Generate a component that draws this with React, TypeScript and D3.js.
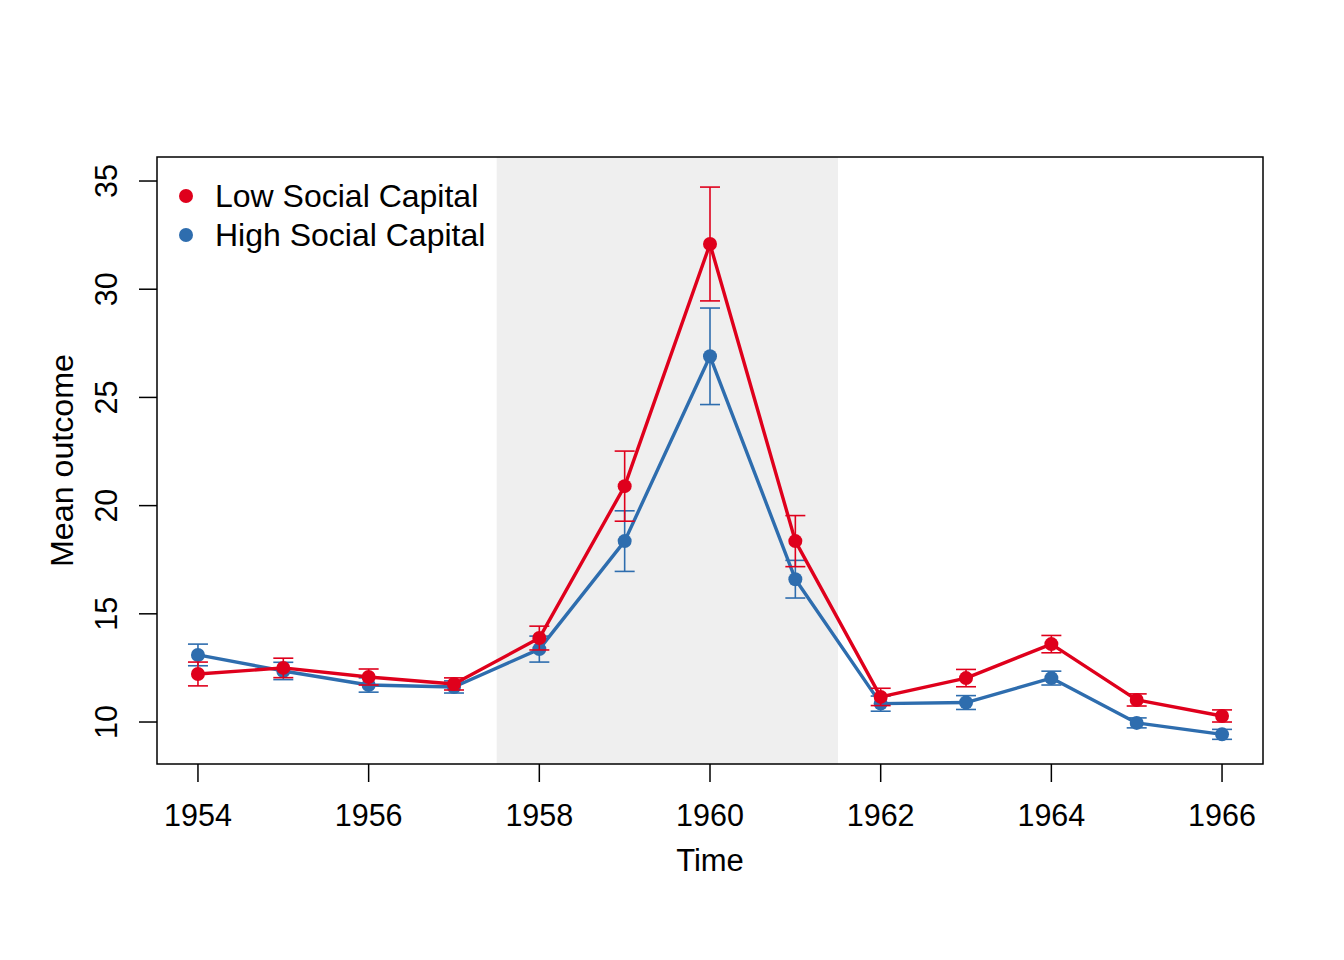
import React from "react";
import * as d3 from "d3";

const years = [1954, 1955, 1956, 1957, 1958, 1959, 1960, 1961, 1962, 1963, 1964, 1965, 1966];
const lowMean = [12.22, 12.5, 12.08, 11.76, 13.88, 20.9, 32.09, 18.36, 11.16, 12.03, 13.6, 11.02, 10.28];
const lowErr = [0.55, 0.45, 0.37, 0.28, 0.55, 1.62, 2.63, 1.18, 0.4, 0.4, 0.4, 0.28, 0.28];
const highMean = [13.1, 12.36, 11.71, 11.62, 13.37, 18.36, 26.9, 16.6, 10.85, 10.9, 12.03, 9.96, 9.43];
const highErr = [0.5, 0.4, 0.33, 0.28, 0.6, 1.4, 2.23, 0.87, 0.35, 0.32, 0.32, 0.23, 0.23];
const xTicks = [1954, 1956, 1958, 1960, 1962, 1964, 1966];
const yTicks = [10, 15, 20, 25, 30, 35];
const shade = [1957.5, 1961.5];
const seriesNames = ["Low Social Capital", "High Social Capital"];
const colors = ["#DF001C", "#2E6DAE"];

export default function App() {
  const W = 1344, H = 960;
  const L = 157, R = 1263, T = 157, B = 764;
  const x = d3.scaleLinear().domain([1953.52, 1966.48]).range([L, R]);
  const y = d3.scaleLinear().domain([8.06, 36.11]).range([B, T]);
  const font = "Liberation Sans, Arial, Helvetica, sans-serif";
  const series = [
    { mean: lowMean, err: lowErr, color: colors[0] },
    { mean: highMean, err: highErr, color: colors[1] },
  ];
  const line = d3.line<number>().x((_, i) => x(years[i])).y((d) => y(d));
  const order = [1, 0];
  return (
    <svg width={W} height={H} style={{ display: "block", position: "absolute", left: 0, top: 0 }} fontFamily={font}>
      <rect x={0} y={0} width={W} height={H} fill="#fff" />
      <rect x={x(shade[0])} y={T} width={x(shade[1]) - x(shade[0])} height={B - T} fill="#EFEFEF" />
      {order.map((si) => {
        const s = series[si];
        return (
          <g key={si}>
            {s.mean.map((m, i) => (
              <g key={i} stroke={s.color} strokeWidth={1.6}>
                <line x1={x(years[i])} x2={x(years[i])} y1={y(m - s.err[i])} y2={y(m + s.err[i])} />
                <line x1={x(years[i]) - 10} x2={x(years[i]) + 10} y1={y(m - s.err[i])} y2={y(m - s.err[i])} />
                <line x1={x(years[i]) - 10} x2={x(years[i]) + 10} y1={y(m + s.err[i])} y2={y(m + s.err[i])} />
              </g>
            ))}
            <path d={line(s.mean) || ""} fill="none" stroke={s.color} strokeWidth={3.4} strokeLinejoin="round" />
            {s.mean.map((m, i) => (
              <circle key={i} cx={x(years[i])} cy={y(m)} r={7} fill={s.color} />
            ))}
          </g>
        );
      })}
      <rect x={L} y={T} width={R - L} height={B - T} fill="none" stroke="#000" strokeWidth={1.5} />
      {xTicks.map((t) => (
        <g key={t}>
          <line x1={x(t)} x2={x(t)} y1={B} y2={B + 18} stroke="#000" strokeWidth={1.5} />
          <text x={x(t)} y={826} fontSize={30.5} textAnchor="middle">{t}</text>
        </g>
      ))}
      {yTicks.map((t) => (
        <g key={t}>
          <line x1={L} x2={L - 18} y1={y(t)} y2={y(t)} stroke="#000" strokeWidth={1.5} />
          <text transform={`translate(117,${y(t)}) rotate(-90)`} fontSize={30.5} textAnchor="middle">{t}</text>
        </g>
      ))}
      <text x={(L + R) / 2} y={871} fontSize={31} textAnchor="middle">Time</text>
      <text transform={`translate(73,${(T + B) / 2}) rotate(-90)`} fontSize={31} textAnchor="middle" textLength={213} lengthAdjust="spacingAndGlyphs">Mean outcome</text>
      {seriesNames.map((n, i) => (
        <g key={n}>
          <circle cx={186} cy={196 + i * 39} r={7} fill={colors[i]} />
          <text x={215} y={196 + i * 39 + 11} fontSize={32}>{n}</text>
        </g>
      ))}
    </svg>
  );
}
